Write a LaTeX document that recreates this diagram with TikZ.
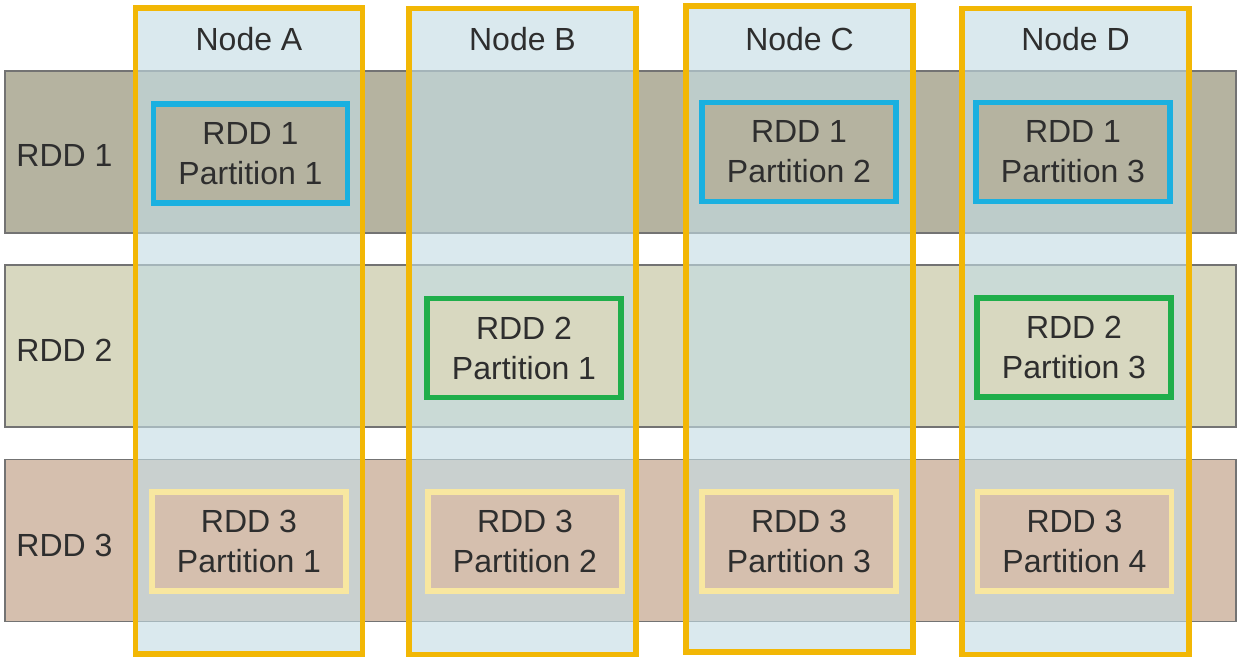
\documentclass[tikz,border=0pt]{standalone}
\usepackage{fontspec}
\setmainfont{Liberation Sans}
\definecolor{bandA}{HTML}{B5B3A0}
\definecolor{bandB}{HTML}{D8D8C0}
\definecolor{bandC}{HTML}{D5BFAE}
\definecolor{colfill}{RGB}{195,220,228}
\definecolor{gold}{HTML}{F2B705}
\definecolor{cyanb}{HTML}{1AB0E0}
\definecolor{greenb}{HTML}{1FAE4B}
\definecolor{paleb}{HTML}{F8E7A0}
\definecolor{txt}{HTML}{2E2E2E}
\tikzset{
  band/.style={draw=black!55, line width=0.6pt, minimum width=615.5pt, minimum height=81pt, inner sep=0pt},
  column/.style={draw=gold, line width=2.6pt, fill=colfill, fill opacity=0.62, draw opacity=1, minimum width=113.5pt, minimum height=323pt, inner sep=0pt},
  part/.style={line width=2.6pt, minimum width=97pt, minimum height=49.5pt, inner sep=0pt, align=center, text=txt, font=\fontsize{16}{20}\selectfont},
  p1/.style={part, draw=cyanb, fill=bandA},
  p2/.style={part, draw=greenb, fill=bandB},
  p3/.style={part, draw=paleb, fill=bandC},
  lbl/.style={text=txt, font=\fontsize{16}{20}\selectfont, inner sep=0pt}
}
\begin{document}
\begin{tikzpicture}[x=0.5pt,y=-0.5pt]
\useasboundingbox (0,0) rectangle (1240,661);
% bands
\node[band, fill=bandA] (b1) at (620.5,152) {};
\node[band, fill=bandB] (b2) at (620.5,346) {};
\node[band, fill=bandC] (b3) at (620.5,540.5) {};
\node[lbl, anchor=west] (l1) at (16,155) {RDD 1};
\node[lbl, anchor=west] (l2) at (16,350) {RDD 2};
\node[lbl, anchor=west] (l3) at (16,545) {RDD 3};
% columns
\node[column] (ca) at (249,331) {};
\node[column] (cb) at (522.5,331.5) {};
\node[column] (cc) at (799.5,329) {};
\node[column] (cd) at (1075.5,331.5) {};
\node[lbl] (na) at (249,39) {Node A};
\node[lbl] (nb) at (522.5,39) {Node B};
\node[lbl] (nc) at (799.5,39) {Node C};
\node[lbl] (nd) at (1075.5,39) {Node D};
% partitions
\node[p1] (r1a) at (250.5,153.5) {RDD 1\\Partition 1};
\node[p1] (r1c) at (799,152) {RDD 1\\Partition 2};
\node[p1] (r1d) at (1073,152) {RDD 1\\Partition 3};
\node[p2] (r2b) at (524,348) {RDD 2\\Partition 1};
\node[p2] (r2d) at (1074,347.5) {RDD 2\\Partition 3};
\node[p3] (r3a) at (249,541.5) {RDD 3\\Partition 1};
\node[p3] (r3b) at (525,541.5) {RDD 3\\Partition 2};
\node[p3] (r3c) at (799,541.5) {RDD 3\\Partition 3};
\node[p3] (r3d) at (1074.5,541.5) {RDD 3\\Partition 4};
\end{tikzpicture}
\end{document}
